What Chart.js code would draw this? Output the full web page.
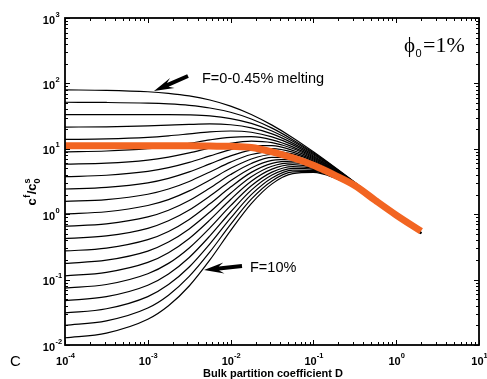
<!DOCTYPE html>
<html><head><meta charset="utf-8">
<script src="https://cdn.jsdelivr.net/npm/chart.js@4.4.1/dist/chart.umd.min.js"></script>
<style>html,body{margin:0;padding:0;background:#fff}#wrap{width:487px;height:379px;position:relative}</style>
</head><body><div id="wrap"><canvas id="c" width="487" height="379"></canvas></div>
<script>
// Bulk partition coefficient D (x positions of the read values)
const D_VALUES = [1e-4, 3.162e-4, 1e-3, 1.778e-3, 3.162e-3, 5.623e-3, 1e-2, 1.778e-2, 3.162e-2, 5.623e-2, 0.1, 0.1778, 0.3162, 0.5623, 1, 1.995];

// Instantaneous melt c^f/c0^s, one curve per melting step (top = F≈0-0.45%, bottom = F=10%)
const f01 = [79.6, 78.3, 74.5, 70.5, 64.4, 55.8, 45.0, 33.5, 23.0, 14.8, 9.01, 5.32, 3.08, 1.760, 1, 0.504];
const f02 = [51.5, 51.1, 49.9, 48.5, 46.1, 42.1, 36.2, 28.6, 20.7, 13.8, 8.69, 5.22, 3.05, 1.756, 1, 0.505];
const f03 = [33.3, 33.3, 33.4, 33.4, 33.0, 31.8, 29.0, 24.5, 18.7, 13.0, 8.38, 5.12, 3.02, 1.750, 1, 0.506];
const f04 = [21.5, 21.7, 22.4, 23.0, 23.6, 24.0, 23.3, 20.9, 16.9, 12.2, 8.08, 5.02, 2.99, 1.744, 1, 0.507];
const f05 = [13.9, 14.2, 15.0, 15.8, 16.9, 18.1, 18.7, 17.9, 15.2, 11.5, 7.79, 4.92, 2.97, 1.738, 1, 0.509];
const f06 = [8.98, 9.25, 10.05, 10.9, 12.1, 13.7, 15.0, 15.3, 13.7, 10.7, 7.51, 4.83, 2.94, 1.732, 1, 0.510];
const f07 = [5.81, 6.03, 6.73, 7.48, 8.65, 10.3, 12.1, 13.1, 12.4, 10.1, 7.24, 4.74, 2.91, 1.726, 1, 0.511];
const f08 = [3.75, 3.94, 4.51, 5.14, 6.19, 7.78, 9.70, 11.2, 11.2, 9.47, 6.99, 4.65, 2.88, 1.720, 1, 0.512];
const f09 = [2.43, 2.57, 3.02, 3.54, 4.43, 5.87, 7.80, 9.55, 10.06, 8.89, 6.73, 4.55, 2.86, 1.714, 1, 0.513];
const f10 = [1.57, 1.67, 2.02, 2.43, 3.17, 4.43, 6.26, 8.17, 9.07, 8.34, 6.49, 4.47, 2.83, 1.709, 1, 0.514];
const f11 = [1.01, 1.09, 1.36, 1.67, 2.27, 3.34, 5.03, 6.98, 8.18, 7.83, 6.26, 4.38, 2.80, 1.703, 1, 0.516];
const f12 = [0.655, 0.712, 0.908, 1.15, 1.62, 2.52, 4.04, 5.97, 7.38, 7.35, 6.04, 4.30, 2.78, 1.697, 1, 0.517];
const f13 = [0.424, 0.465, 0.608, 0.793, 1.16, 1.90, 3.24, 5.10, 6.65, 6.90, 5.82, 4.21, 2.75, 1.691, 1, 0.518];
const f14 = [0.274, 0.303, 0.408, 0.545, 0.832, 1.44, 2.60, 4.36, 6.00, 6.48, 5.61, 4.13, 2.73, 1.686, 1, 0.519];
const f15 = [0.177, 0.198, 0.273, 0.375, 0.595, 1.08, 2.09, 3.73, 5.41, 6.08, 5.41, 4.05, 2.70, 1.680, 1, 0.520];
const f16 = [0.114, 0.129, 0.183, 0.258, 0.426, 0.818, 1.68, 3.19, 4.88, 5.71, 5.22, 3.98, 2.67, 1.674, 1, 0.521];
const f17 = [0.0740, 0.0841, 0.123, 0.177, 0.305, 0.618, 1.35, 2.72, 4.40, 5.35, 5.03, 3.90, 2.65, 1.669, 1, 0.522];
const f18 = [0.0478, 0.0549, 0.0821, 0.122, 0.218, 0.466, 1.08, 2.33, 3.97, 5.03, 4.85, 3.82, 2.62, 1.663, 1, 0.524];
const f19 = [0.0309, 0.0358, 0.0550, 0.0840, 0.156, 0.352, 0.870, 1.99, 3.58, 4.72, 4.68, 3.75, 2.60, 1.658, 1, 0.525];
const f20 = [0.0200, 0.0234, 0.0368, 0.0578, 0.112, 0.265, 0.699, 1.70, 3.23, 4.43, 4.51, 3.68, 2.58, 1.652, 1, 0.526];
const f21 = [0.0129, 0.0152, 0.0247, 0.0398, 0.0799, 0.200, 0.561, 1.45, 2.91, 4.16, 4.35, 3.61, 2.55, 1.646, 1, 0.527];

// Thick orange curve (aggregated melt)
const aggregated = [11.1, 11.1, 11.1, 11.1, 11.1, 11.0, 10.9, 10.5, 9.0, 7.3, 5.6, 4.0, 2.75, 1.62, 0.97, 0.55];

// Axis tick labels
const X_TICK_VALUES = [1e-4, 1e-3, 1e-2, 1e-1, 1, 10];
const X_TICK_EXP = ['-4', '-3', '-2', '-1', '0', '1'];
const Y_TICK_VALUES = [1e-2, 1e-1, 1, 10, 100, 1000];
const Y_TICK_EXP = ['-2', '-1', '0', '1', '2', '3'];

const curves = [f01, f02, f03, f04, f05, f06, f07, f08, f09, f10, f11, f12, f13, f14, f15, f16, f17, f18, f19, f20, f21];
const pts = arr => D_VALUES.map((d, j) => ({x: d, y: arr[j]}));

const datasets = [{
  data: pts(aggregated), borderColor: '#f26522', borderWidth: 7, pointRadius: 0,
  cubicInterpolationMode: 'monotone', order: 0, borderCapStyle: 'butt'
}];
curves.forEach(c => datasets.push({
  data: pts(c), borderColor: '#000', borderWidth: 1.2, pointRadius: 0,
  cubicInterpolationMode: 'monotone', order: 1
}));

const SANS = "'Liberation Sans', Arial, Helvetica, sans-serif";
const SERIF = "'Liberation Serif', 'DejaVu Serif', 'Times New Roman', serif";

function arrow(ctx, tx, ty, bx, by) {
  const len = Math.hypot(bx - tx, by - ty);
  const ux = (bx - tx) / len, uy = (by - ty) / len;
  const nx = -uy, ny = ux;
  const hl = 20, hw = 5.5, sw = 2, nl = 15;
  ctx.beginPath();
  ctx.moveTo(tx, ty);
  ctx.lineTo(tx + ux * hl + nx * hw, ty + uy * hl + ny * hw);
  ctx.lineTo(tx + ux * nl + nx * sw, ty + uy * nl + ny * sw);
  ctx.lineTo(bx + nx * sw, by + ny * sw);
  ctx.lineTo(bx - nx * sw, by - ny * sw);
  ctx.lineTo(tx + ux * nl - nx * sw, ty + uy * nl - ny * sw);
  ctx.lineTo(tx + ux * hl - nx * hw, ty + uy * hl - ny * hw);
  ctx.closePath();
  ctx.fill();
}

const deco = {
  id: 'deco',
  afterDraw(chart) {
    const ctx = chart.ctx, xs = chart.scales.x, ys = chart.scales.y, a = chart.chartArea;
    ctx.save();
    ctx.fillStyle = '#000';
    ctx.strokeStyle = '#000';
    // frame
    ctx.lineWidth = 1.8;
    ctx.strokeRect(a.left, a.top, a.right - a.left, a.bottom - a.top);
    // ticks
    ctx.lineWidth = 1;
    ctx.beginPath();
    for (let e = -4; e <= 1; e++) {
      for (let m = 1; m <= 9; m++) {
        const v = m * Math.pow(10, e);
        if (v > 10.0001) break;
        const px = Math.round(xs.getPixelForValue(v)) + 0.5;
        const len = m === 1 ? 5 : 3;
        ctx.moveTo(px, a.bottom); ctx.lineTo(px, a.bottom - len);
        ctx.moveTo(px, a.top); ctx.lineTo(px, a.top + len);
      }
    }
    for (let e = -2; e <= 3; e++) {
      for (let m = 1; m <= 9; m++) {
        const v = m * Math.pow(10, e);
        if (v > 1000.001) break;
        const py = Math.round(ys.getPixelForValue(v)) + 0.5;
        const len = m === 1 ? 5 : 3;
        ctx.moveTo(a.left, py); ctx.lineTo(a.left + len, py);
        ctx.moveTo(a.right, py); ctx.lineTo(a.right - len, py);
      }
    }
    ctx.stroke();

    // tick labels
    ctx.textBaseline = 'alphabetic';
    const big = 'bold 11px ' + SANS, small = 'bold 7.5px ' + SANS;
    X_TICK_VALUES.forEach((v, i) => {
      const px = xs.getPixelForValue(v);
      ctx.font = big; const w1 = ctx.measureText('10').width;
      ctx.font = small; const w2 = ctx.measureText(X_TICK_EXP[i]).width;
      const x0 = px - (w1 + w2) / 2 + 0.5;
      ctx.font = big; ctx.textAlign = 'left'; ctx.fillText('10', x0, 365);
      ctx.font = small; ctx.fillText(X_TICK_EXP[i], x0 + w1, 358);
    });
    Y_TICK_VALUES.forEach((v, i) => {
      const py = ys.getPixelForValue(v);
      ctx.font = big; ctx.textAlign = 'right'; ctx.fillText('10', 55, py + 5.5);
      ctx.font = small; ctx.textAlign = 'left'; ctx.fillText(Y_TICK_EXP[i], 55.5, py - 1.5);
    });

    // axis titles
    ctx.font = 'bold 11px ' + SANS; ctx.textAlign = 'center';
    ctx.fillText('Bulk partition coefficient D', 273, 377);

    ctx.save();
    ctx.translate(36, 192);
    ctx.rotate(-Math.PI / 2);
    ctx.textAlign = 'left';
    const B = 'bold 13px ' + SANS, S = 'bold 9px ' + SANS;
    ctx.font = B; const wc = ctx.measureText('c').width;
    ctx.font = S; const wf = ctx.measureText('f').width + 1;
    ctx.font = B; const wsl = ctx.measureText('/c').width;
    ctx.font = S; const w0 = ctx.measureText('0').width;
    const total = wc + wf + wsl + w0;
    let x = -total / 2;
    ctx.font = B; ctx.fillText('c', x, 0); x += wc;
    ctx.font = S; ctx.fillText('f', x + 0.5, -6); x += wf;
    ctx.font = B; ctx.fillText('/c', x, 0); x += wsl;
    ctx.font = S; ctx.fillText('0', x, 4); ctx.fillText('s', x, -6);
    ctx.restore();

    // annotations
    ctx.textAlign = 'left';
    ctx.font = '14.5px ' + SANS;
    ctx.fillText('F=0-0.45% melting', 202, 83);
    ctx.fillText('F=10%', 250, 272);
    arrow(ctx, 154, 91, 188, 76);
    arrow(ctx, 204, 270, 242, 266);

    ctx.font = '15px ' + SANS;
    ctx.fillText('C', 10, 366);

    ctx.font = '21px ' + SERIF;
    ctx.fillText('\u03D5', 404, 52);
    const wp = ctx.measureText('\u03D5').width;
    ctx.font = '11px ' + SANS;
    ctx.fillText('0', 404 + wp + 0.5, 57);
    ctx.font = '22px ' + SERIF;
    ctx.fillText('=1%', 423, 52);
    ctx.restore();
  }
};

new Chart(document.getElementById('c'), {
  type: 'line',
  data: { datasets },
  options: {
    responsive: false,
    animation: false,
    devicePixelRatio: 1,
    layout: { padding: { left: 65, right: 8, top: 18, bottom: 34 } },
    plugins: { legend: { display: false }, tooltip: { enabled: false } },
    scales: {
      x: { type: 'logarithmic', min: 1e-4, max: 10, display: false },
      y: { type: 'logarithmic', min: 1e-2, max: 1000, display: false }
    }
  },
  plugins: [deco]
});
</script>
</body></html>
